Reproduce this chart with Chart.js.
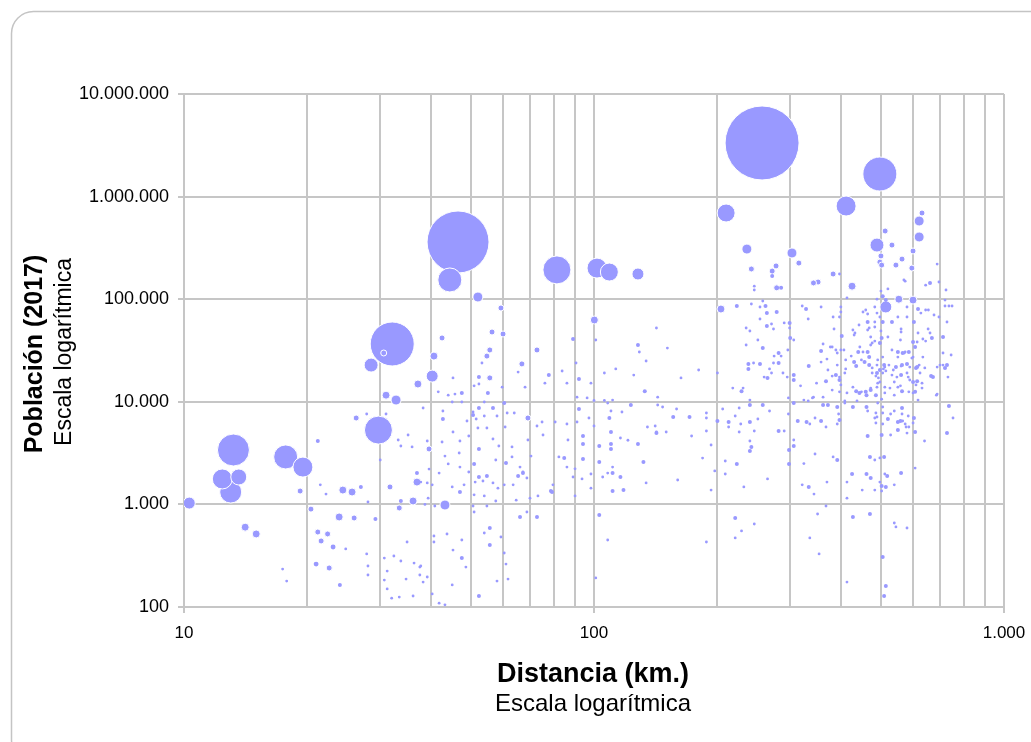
<!DOCTYPE html>
<html lang="es">
<head>
<meta charset="UTF-8">
<title>Población y distancia</title>
<style>
  body { margin: 0; background: #ffffff; }
  canvas { display: block; }
</style>
</head>
<body>
<canvas id="grafico" width="1031" height="742"></canvas>

<script src="https://cdn.jsdelivr.net/npm/chart.js"></script>
<script>
// Distancia (km.) de cada municipio
const distancias = [
  // burbujas grandes
  10.3, 13.2, 12.4, 13.0, 13.6, 17.7, 19.5, 14.1, 15.0, 29.8,
  32.2, 46.6, 44.5, 81.2, 101.7, 109, 128, 52.1, 257, 498,
  412, 210, 28.6, 32.9, 40.3, 43.3, 20.4, 100.2, 59.3,
  // arriba a la derecha
  631, 621, 621, 513, 490, 533, 236, 304, 316, 242,
  278, 272, 272, 501, 498, 503, 564, 545, 600, 596,
  687, 383, 397, 352, 343, 279, 286, 426, 246, 246,
  574, 660, 644, 694, 722, 521, 501, 506, 515, 490,
  554, 600, 414, 570, 204, 223, 258, 262, 254, 242,
  // nube densa 300-800 km
  322, 329, 358, 400, 400, 383, 397, 460, 465, 484,
  490, 498, 515, 506, 510, 551, 580, 617, 627, 644,
  654, 675, 718, 718, 734, 747, 694, 726, 453, 465,
  484, 506, 533, 580, 603, 385, 433, 469, 501, 503,
  484, 477, 465, 521, 561, 561, 559, 600, 614, 617,
  653, 660, 667, 644, 710, 710, 402, 400, 389, 392,
  407, 381, 411, 424, 441, 449, 469, 392, 411, 436,
  409, 477, 490, 498, 508, 506, 515, 545, 561, 589,
  596, 571, 551, 566, 551, 533, 610, 621, 624, 641,
  634, 671, 698, 718, 381, 389, 397, 487, 494, 533,
  548, 561, 584, 589, 614, 631, 428, 473, 492, 730,
  // 140-750 km, 11.000-75.000 hab.
  142, 151, 180, 163, 235, 240, 264, 279, 254, 264,
  271, 274, 291, 300, 300, 333, 251, 235, 258, 282,
  286, 275, 297, 301, 307, 282, 274, 238, 238, 245,
  254, 268, 271, 265, 260, 289, 296, 307, 307, 334,
  358, 362, 358, 377, 370, 372, 368, 349, 319, 200,
  218, 231, 229, 143, 431, 445, 473, 473, 453, 465,
  498, 506, 492, 510, 524, 574, 586, 600, 607, 634,
  443, 484, 428, 457, 469, 477, 490, 498, 512, 537,
  564, 580, 580, 600, 610, 614, 664, 687, 710, 726,
  743, 687, 600, 564, 551, 540, 527, 512, 490, 460,
  444, 414, 400, 431, 397, 362, 343,
  // 350-750 km, por debajo de 14.000 hab.
  381, 397, 436, 449, 462, 473, 487, 512, 540, 559,
  586, 607, 631, 684, 409, 428, 438, 462, 465, 487,
  492, 503, 506, 529, 540, 564, 564, 584, 559, 577,
  600, 603, 617, 734, 751, 395, 397, 392, 484, 521,
  506, 551, 580, 607, 640, 726, 465, 503, 529, 383,
  392, 471, 484, 498, 510, 426, 462, 473, 512, 519,
  561, 414, 498, 503, 484, 503, 515, 540, 451, 414,
  607, 428, 471, 351, 221, 229, 221, 246, 188, 336,
  354, 506, 515, 510, 414, 540, 545, 580,
  // 140-410 km, por debajo de 11.000 hab.
  240, 240, 258, 206, 226, 268, 188, 188, 200, 213,
  213, 221, 228, 240, 251, 246, 188, 193, 184, 282,
  291, 298, 298, 307, 240, 242, 240, 209, 223, 209,
  197, 193, 232, 265, 299, 307, 307, 299, 325, 314,
  330, 336, 346, 358, 368, 346, 322, 334, 344, 370,
  325, 341, 333, 362, 372, 392, 409, 490, 487, 506,
  551, 566, 574, 586, 368, 160, 173, 141, 142, 150,
  226, 143, 147, 159, 156, 171,
  // 65-140 km
  88.9, 101, 128, 129, 134, 90.4, 113, 106, 125, 91.9,
  98.3, 85.9, 75.9, 83.6, 77.6, 133, 90.9, 96.2, 100, 106,
  108, 111, 123, 91.9, 110, 117, 109, 97.2, 90.9, 100,
  110, 94, 135, 142, 116, 121, 103, 110, 110, 94,
  128, 103, 94, 84.6, 132, 111, 111, 116, 108, 105,
  134, 118, 111, 103, 108, 101, 79.4, 78.5, 72.6, 66,
  // 37-100 km
  42.6, 40.7, 37.2, 45.3, 41.7, 44.1, 45.8, 47.6, 45.1, 47.6,
  56.4, 60.0, 55.7, 54.8, 53.3, 66.7, 65.3, 72.6, 55.7, 52.4,
  52.4, 51.0, 55.1, 54.0, 59.7, 67.9, 60.4, 38.3, 42.8, 42.8,
  50.7, 50.7, 51.6, 49.0, 52.4, 56.7, 54.0, 58.0, 61.4, 63.9,
  69.0, 74.7, 72.6, 80.4, 85.9, 60.7, 52.1, 54.8, 45.3, 39.2,
  42.6, 47.1, 49.5, 56.7, 58.6, 63.1, 69.0, 75.1, 86.4, 39.6,
  43.3, 46.9, 52.4, 63.1, 70.2, 82.1, 57.6, 61.0, 66.0, 67.1,
  65.3, 51.0, 44.1, 47.1, 49.5, 52.4, 54.8, 41.9, 39.6, 85.9,
  89.9, 88.9, 51.3, 53.6, 56.7, 60.4, 63.5, 67.1, 68.6, 40.3,
  37.8, 45.1, 48.2, 47.1, 51.0, 54.0, 58.3, 57.6, 64.6, 69.8,
  73.0, 79.0, 93.5, 98.3, 98.3, 89.9, 38.7, 40.9, 50.7, 54.8,
  51.0, 68.6, 55.7, 54.0, 43.8, 40.7, 40.7, 47.6, 55.7, 59.3,
  45.3, 47.6, 48.7, 60.4, 61.0, 37.6, 39.2, 38.3, 45.1, 58.0,
  61.7, 40.3, 52.4, 41.9, 43.3,
  // 17-40 km
  30.7, 31.1, 26.3, 27.9, 31.1, 21.2, 33.3, 35.2, 33.8, 36.0,
  30.1, 37.0, 37.0, 21.5, 22.2, 19.2, 24.4, 25.7, 27.0, 31.8,
  39.2, 28.1, 33.8, 36.2, 23.9, 26.0, 29.3, 33.5, 21.2, 22.4,
  21.6, 23.1, 24.8, 27.9, 30.8, 32.5, 33.8, 36.4, 37.8, 21.0,
  22.6, 31.3, 28.1, 28.1, 24.0, 17.4, 17.8, 30.8, 31.3, 32.1,
  33.5, 36.2, 34.8, 37.6, 35.0, 39.4
];

// Población (2017), en el mismo orden
const poblaciones = [
  1030, 3390, 1770, 1320, 1850, 2900, 2310, 600, 515, 5300,
  36600, 361000, 154000, 193000, 201000, 184000, 176000, 105000, 3330000, 1660000,
  809000, 692000, 22800, 10400, 17800, 986, 900, 62700, 82100,
  692000, 578000, 404000, 462000, 337000, 337000, 308000, 282000, 225000, 197000,
  211000, 188000, 168000, 264000, 230000, 215000, 246000, 215000, 295000, 201000,
  220000, 176000, 176000, 147000, 144000, 129000, 129000, 134000, 134000, 123000,
  150000, 144000, 137000, 147000, 123000, 126000, 120000, 107000, 98000, 100000,
  100000, 98000, 103000, 154000, 80200, 85900, 96000, 85900, 84000, 89800,
  85900, 80200, 84000, 84000, 75000, 67100, 67100, 78500, 71700, 84000,
  73300, 67100, 84000, 78500, 87800, 67100, 84000, 80200, 73300, 78500,
  78500, 70100, 98000, 85900, 85900, 85900, 67100, 60000, 75000, 60000,
  60000, 60000, 60000, 67100, 60000, 51200, 46800, 52400, 49000, 41900,
  39100, 37400, 30600, 42800, 47900, 51200, 40000, 38300, 38300, 46800,
  51200, 46800, 41900, 39100, 42800, 29900, 43800, 32000, 32000, 29900,
  32000, 34200, 25600, 27900, 30600, 25600, 27300, 22800, 20900, 22300,
  19100, 21400, 22800, 20400, 20900, 19100, 20000, 21800, 22300, 21800,
  26700, 29900, 30600, 29900, 27300, 32000, 21400, 22800, 19100, 21400,
  27300, 17400, 22800, 21400, 17800, 18200, 17400, 17800, 17100, 18200,
  17400, 18200, 17400, 16300, 15900, 15200, 13900, 13600, 15200, 17400,
  52400, 33400, 20400, 17100, 52400, 49000, 73300, 75000, 64100, 54800,
  57300, 51200, 58700, 58700, 52400, 64100, 40000, 35800, 33400, 29900,
  27900, 27900, 32000, 41900, 40000, 23900, 23900, 23400, 20900, 23900,
  23400, 20900, 19100, 17100, 17400, 19100, 17400, 18200, 16300, 22300,
  24400, 36600, 31300, 34200, 26100, 20400, 15900, 15200, 14300, 19100,
  13600, 13600, 12700, 11100, 44800, 34200, 42800, 35800, 30600, 50100,
  37400, 27300, 25600, 22800, 22800, 30600, 30600, 27300, 34200, 40900,
  56000, 53600, 50100, 24400, 22800, 19100, 19100, 15600, 21800, 20400,
  22800, 23400, 19100, 15600, 14600, 21800, 17800, 21800, 22800, 22800,
  28600, 11900, 12200, 12700, 13900, 15600, 13600, 12200, 13900, 12500,
  12200, 12200, 14600, 24400, 16300, 11100, 11100,
  13000, 12500, 12700, 12500, 11600, 13000, 11600, 13900, 11600, 14300,
  12500, 12500, 13600, 11600, 10200, 8900, 10200, 8900, 8130, 7780,
  9730, 10600, 8900, 7600, 8130, 8700, 7600, 7270, 6500, 5680,
  6210, 6950, 10400, 9100, 6950, 7600, 6650, 6080, 6950, 6800,
  6080, 5310, 4960, 5080, 4150, 4960, 4640, 4750, 4750, 2900,
  2710, 2900, 2710, 2840, 2900, 1980, 1980, 1810, 1980, 1890,
  2020, 1650, 1650, 1510, 1380, 1350, 1480, 1550, 1380, 1150,
  2260, 754, 806, 806, 737, 551, 471, 644, 430, 471,
  329, 307, 160, 128, 175, 659, 603, 589,
  10400, 9300, 9300, 8510, 8700, 8130, 7780, 6950, 6500, 6350,
  5680, 7270, 6080, 6350, 6800, 5190, 5190, 3790, 2830, 5190,
  5190, 10900, 7600, 9730, 4150, 3630, 3310, 2650, 2480, 1980,
  2120, 1380, 1480, 1770, 3390, 4240, 3710, 2480, 2500, 6500,
  6350, 6080, 6950, 6500, 5680, 3100, 1550, 1480, 1260, 1650,
  10400, 10900, 10200, 9300, 9300, 8900, 9730, 7110, 6210, 7780,
  6350, 6500, 6080, 5680, 965, 1730, 4640, 5810, 5080, 5080,
  5080, 9300, 8900, 8510, 7110, 7110,
  40900, 40000, 35800, 30600, 25000, 23900, 20900, 19100, 18200, 16700,
  15200, 15200, 15200, 19950, 18200, 12700, 11100, 10900, 10300, 10300,
  9730, 10400, 9300, 8510, 8130, 7950, 6950, 6950, 6350, 5810,
  5080, 4640, 5680, 4960, 4440, 4220, 3710, 3880, 3470, 3880,
  3880, 2590, 2770, 2830, 2590, 2310, 2020, 1850, 2020, 1850,
  1620, 1380, 1350, 789, 450, 192, 1550, 1350, 754, 754,
  41900, 27900, 14900, 17100, 12500, 11600, 11900, 12200, 9950, 9950,
  47900, 45800, 32000, 27900, 23900, 23400, 19500, 32000, 17100, 17400,
  14900, 14300, 12200, 9950, 13900, 13900, 9730, 8700, 8130, 6800,
  7950, 7430, 6800, 6500, 8700, 8700, 7270, 7270, 7780, 7780,
  6950, 6350, 5810, 6350, 6080, 5680, 5550, 5550, 5080, 4150,
  4060, 4150, 4640, 4340, 3710, 3630, 4240, 4750, 4240, 3470,
  2960, 3170, 3470, 2900, 2960, 2900, 2710, 2530, 2310, 2070,
  1890, 2480, 2480, 2310, 2070, 1850, 1890, 2020, 2210, 2310,
  2220, 1850, 1650, 1690, 1620, 1550, 1550, 2020, 1810, 1550,
  1650, 1480, 1550, 1320, 1240, 1210, 1440, 1080, 1100, 1150,
  1210, 1320, 1770, 1980, 1440, 1210, 1000, 965, 965, 965,
  843, 843, 589, 526, 515, 492, 430, 450, 402, 481,
  359, 300, 245, 336, 262, 245, 196, 175, 164, 179,
  187, 134, 128, 109, 105,
  29900, 11600, 6950, 7600, 7600, 4150, 4240, 4750, 3710, 3630,
  2710, 2020, 1650, 1550, 1260, 1350, 1380, 1320, 1480, 1480,
  1620, 1055, 1080, 1080, 754, 737, 720, 923, 538, 515,
  440, 385, 368, 329, 300, 314, 281, 268, 251, 262,
  240, 224, 251, 205, 164, 234, 179, 183, 150, 122,
  125, 128, 187, 205, 430, 1150
];

// Tamaño de cada burbuja (valor de área), en el mismo orden
const tamanos = [
  36, 256, 100, 121, 64, 144, 100, 16, 16, 196,
  484, 961, 144, 196, 100, 81, 36, 25, 1369, 289,
  100, 81, 49, 25, 36, 25, 9, 16, 9,
  9, 25, 25, 9, 49, 9, 25, 25, 9, 9,
  9, 9, 4, 9, 9, 9, 9, 9, 9, 9,
  2, 9, 2, 9, 9, 9, 4, 16, 2, 2,
  2, 4, 2, 2, 2, 2, 2, 4, 4, 2,
  16, 16, 2, 2, 16, 4, 2, 4, 2, 2,
  2, 4, 2, 2, 2, 2, 2, 2, 2, 2,
  2, 2, 36, 2, 2, 2, 2, 4, 2, 2,
  2, 2, 2, 2, 2, 2, 2, 2, 2, 4,
  2, 4, 4, 2, 4, 2, 2, 2, 2, 4,
  2, 2, 4, 2, 2, 2, 2, 4, 2, 2,
  2, 2, 4, 2, 4, 2, 4, 2, 2, 2,
  2, 2, 2, 2, 4, 2, 4, 2, 2, 4,
  2, 2, 2, 4, 2, 2, 2, 4, 2, 2,
  2, 2, 4, 4, 2, 2, 4, 2, 2, 2,
  2, 4, 2, 4, 2, 4, 2, 2, 2, 2,
  2, 4, 2, 2, 4, 2, 2, 2, 2, 2,
  2, 2, 2, 2, 2, 2, 4, 4, 2, 4,
  2, 2, 2, 4, 2, 2, 2, 2, 4, 4,
  2, 2, 2, 4, 2, 4, 2, 4, 4, 2,
  4, 2, 2, 4, 2, 2, 2, 4, 4, 4,
  2, 2, 4, 2, 2, 2, 4, 2, 2, 2,
  2, 2, 4, 2, 2, 2, 2, 2, 2, 2,
  4, 2, 2, 4, 2, 2, 4, 2, 4, 2,
  2, 2, 2, 4, 4, 2, 4, 2, 2, 2,
  4, 4, 2, 4, 2, 4, 4, 2, 2, 4,
  2, 2, 2, 4, 2, 2, 2, 2, 2, 4,
  4, 2, 2, 4, 4, 2, 2,
  2, 2, 4, 2, 4, 4, 4, 2, 2, 2,
  2, 4, 2, 2, 2, 4, 2, 4, 2, 2,
  2, 2, 2, 2, 2, 4, 2, 2, 4, 2,
  2, 4, 2, 4, 2, 2, 4, 2, 2, 4,
  2, 4, 2, 4, 2, 4, 4, 4, 2, 2,
  4, 4, 2, 2, 4, 4, 4, 4, 2, 4,
  4, 2, 2, 4, 2, 2, 4, 2, 2, 2,
  2, 4, 4, 2, 4, 2, 2, 2, 2, 2,
  2, 4, 4, 4, 2, 2, 2, 2,
  2, 4, 4, 2, 2, 2, 2, 2, 4, 4,
  2, 2, 2, 4, 2, 2, 2, 2, 2, 4,
  2, 2, 2, 4, 2, 4, 4, 2, 4, 2,
  2, 2, 2, 2, 4, 2, 4, 4, 2, 4,
  4, 2, 2, 4, 2, 2, 2, 4, 2, 2,
  2, 2, 2, 4, 4, 4, 2, 2, 2, 2,
  4, 2, 2, 2, 2, 2, 2, 2, 2, 2,
  2, 2, 2, 2, 4, 4,
  4, 2, 4, 2, 2, 2, 2, 2, 2, 4,
  2, 2, 2, 2, 4, 4, 2, 2, 2, 2,
  2, 2, 4, 4, 2, 2, 4, 2, 2, 2,
  4, 4, 2, 4, 2, 2, 4, 4, 4, 4,
  4, 4, 4, 4, 4, 2, 4, 4, 2, 2,
  2, 4, 4, 4, 2, 2, 2, 4, 4, 4,
  9, 16, 16, 2, 2, 2, 2, 4, 2, 2,
  9, 9, 9, 9, 2, 9, 2, 9, 9, 4,
  2, 2, 4, 2, 2, 2, 4, 2, 2, 4,
  2, 4, 2, 2, 4, 4, 2, 2, 2, 2,
  9, 2, 2, 2, 2, 2, 2, 2, 2, 2,
  2, 2, 2, 2, 2, 2, 2, 2, 2, 9,
  2, 2, 4, 2, 2, 2, 2, 4, 2, 2,
  4, 4, 2, 2, 2, 4, 4, 2, 2, 2,
  2, 2, 2, 2, 2, 2, 2, 4, 2, 2,
  2, 2, 2, 4, 2, 2, 2, 2, 2, 2,
  2, 4, 2, 2, 2, 2, 2, 2, 2, 2,
  2, 2, 4, 2, 2, 2, 2, 2, 4, 2,
  2, 4, 2, 2, 2, 2, 2, 2, 2, 2,
  2, 2, 4, 2, 2,
  9, 16, 9, 2, 2, 4, 2, 2, 2, 2,
  2, 4, 16, 2, 2, 9, 16, 16, 4, 9,
  2, 2, 4, 16, 16, 9, 4, 9, 9, 9,
  9, 6, 2, 2, 2, 2, 2, 2, 2, 6,
  9, 2, 2, 2, 4, 2, 2, 2, 2, 2,
  2, 2, 2, 2, 2, 2
];

// Marcas de los ejes
const ticksX = [10, 20, 30, 40, 50, 60, 70, 80, 90, 100, 200, 300, 400, 500, 600, 700, 800, 900, 1000];
const etiquetasX = ['10', '', '', '', '', '', '', '', '', '100', '', '', '', '', '', '', '', '', '1.000'];
const ticksY = [100, 1000, 10000, 100000, 1000000, 10000000];
const etiquetasY = ['100', '1.000', '10.000', '100.000', '1.000.000', '10.000.000'];

if (distancias.length !== poblaciones.length || distancias.length !== tamanos.length) {
  console.warn('longitudes distintas', distancias.length, poblaciones.length, tamanos.length);
}

const FUENTE = '"Liberation Sans", Arial, sans-serif';
const GRIS = '#c6c6c6';

// las pequeñas se dibujan encima de las grandes
const puntos = distancias.map((d, i) => ({ x: d, y: poblaciones[i], r: Math.sqrt(tamanos[i]) }))
  .sort((a, b) => b.r - a.r);

// fondo blanco con marco redondeado
const fondo = {
  id: 'fondo',
  beforeDraw(chart) {
    const c = chart.ctx;
    c.save();
    c.fillStyle = '#ffffff';
    c.fillRect(0, 0, chart.width, chart.height);
    c.strokeStyle = '#c4c4c4';
    c.lineWidth = 1.5;
    c.beginPath();
    c.roundRect(11.5, 11.5, 1045, 750, 22);
    c.stroke();
    c.restore();
  }
};

// títulos de los ejes (negrita + subtítulo)
const titulos = {
  id: 'titulos',
  afterDraw(chart) {
    const c = chart.ctx;
    c.save();
    c.fillStyle = '#000000';
    c.textAlign = 'center';
    c.textBaseline = 'middle';
    c.font = 'bold 27px ' + FUENTE;
    c.fillText('Distancia (km.)', 593, 675);
    c.font = '24px ' + FUENTE;
    c.fillText('Escala logarítmica', 593, 704);

    c.translate(35, 354);
    c.rotate(-Math.PI / 2);
    c.font = 'bold 25px ' + FUENTE;
    c.fillText('Población (2017)', 0, 0);
    c.font = '23px ' + FUENTE;
    c.fillText('Escala logarítmica', 2, 30);
    c.restore();
  }
};

const ctx = document.getElementById('grafico').getContext('2d');

new Chart(ctx, {
  type: 'bubble',
  data: {
    datasets: [{
      data: puntos,
      backgroundColor: '#9999ff',
      borderColor: '#ffffff',
      borderWidth: c => (c.raw && c.raw.r >= 2.5 ? 1 : 0),
      hoverRadius: 0
    }]
  },
  options: {
    responsive: false,
    animation: false,
    events: [],
    layout: { autoPadding: false, padding: { top: 94, right: 27, left: 0, bottom: 0 } },
    plugins: {
      legend: { display: false },
      tooltip: { enabled: false }
    },
    scales: {
      x: {
        type: 'logarithmic',
        min: 10,
        max: 1000,
        afterBuildTicks: s => { s.ticks = ticksX.map(v => ({ value: v })); },
        afterFit: s => { s.height = 135; s.paddingLeft = 0; s.paddingRight = 0; },
        ticks: {
          autoSkip: false,
          maxRotation: 0,
          padding: 10,
          color: '#000000',
          font: { family: FUENTE, size: 17 },
          callback: (v, i) => etiquetasX[i]
        },
        grid: {
          color: GRIS,
          lineWidth: 2,
          tickLength: 6,
          tickColor: c => (etiquetasX[c.index] ? GRIS : 'rgba(0,0,0,0)')
        },
        border: { color: GRIS, width: 2 }
      },
      y: {
        type: 'logarithmic',
        min: 100,
        max: 10000000,
        afterBuildTicks: s => { s.ticks = ticksY.map(v => ({ value: v })); },
        afterFit: s => { s.width = 184; s.paddingTop = 0; s.paddingBottom = 0; },
        ticks: {
          autoSkip: false,
          padding: 9,
          color: '#000000',
          font: { family: FUENTE, size: 18 },
          callback: (v, i) => etiquetasY[i]
        },
        grid: { color: GRIS, lineWidth: 2, tickLength: 6 },
        border: { color: GRIS, width: 2 }
      }
    }
  },
  plugins: [fondo, titulos]
});
</script>
</body>
</html>
